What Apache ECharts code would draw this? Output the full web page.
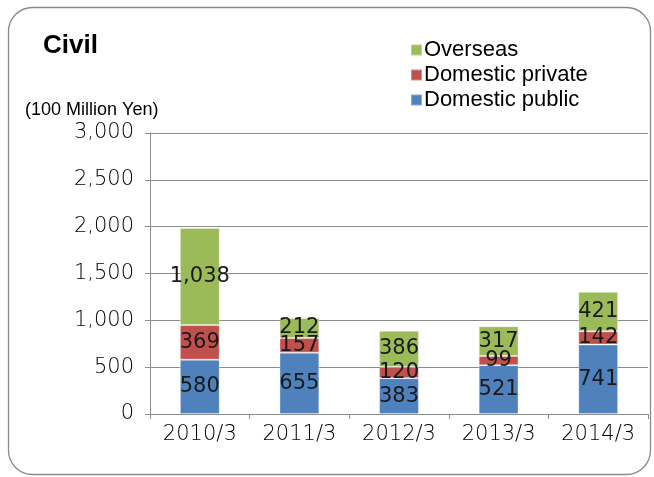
<!DOCTYPE html>
<html>
<head>
<meta charset="utf-8">
<script src="https://cdn.jsdelivr.net/npm/echarts@6/dist/echarts.min.js"></script>
<style>
  html, body { margin: 0; padding: 0; background: #ffffff; }
  #chart { width: 654px; height: 477px; }
</style>
</head>
<body>
<div id="chart"></div>
<script>
// Fiscal years (year/month of fiscal year end)
const categories = ['2010/3', '2011/3', '2012/3', '2013/3', '2014/3'];
// Civil engineering orders, 100 million yen
const domesticPublic = [580, 655, 383, 521, 741];
const domesticPrivate = [369, 157, 120, 99, 142];
const overseas = [1038, 212, 386, 317, 421];
const yTicks = [0, 500, 1000, 1500, 2000, 2500, 3000];

const numFont = 'DejaVu Sans';
const textFont = 'Liberation Sans';

const colors = {
  public: '#4F81BD',
  private: '#C0504D',
  overseas: '#9BBB59'
};

function segment(name, data, color) {
  return {
    name: name,
    type: 'bar',
    stack: 'total',
    data: data,
    barWidth: '40%',
    itemStyle: { color: color, borderColor: 'rgba(255,255,255,0.35)', borderWidth: 1 },
    label: {
      show: true,
      position: 'inside',
      color: '#1a1a1a',
      fontFamily: numFont,
      fontSize: 21,
      formatter: p => p.value.toLocaleString('en-US')
    }
  };
}

const chart = echarts.init(document.getElementById('chart'));
chart.setOption({
  animation: false,
  backgroundColor: '#ffffff',
  grid: { left: 150, right: 6, top: 133, bottom: 63 },
  graphic: [
    {
      type: 'rect',
      shape: { x: 8.5, y: 7.5, width: 642, height: 467, r: 24 },
      style: { fill: 'none', stroke: '#8a8a8a', lineWidth: 1.3 },
      z: -1
    },
    {
      type: 'text',
      left: 43, top: 33,
      style: { text: 'Civil', font: 'bold 26px "Liberation Sans"', fill: '#000' }
    },
    {
      type: 'text',
      left: 25, top: 101,
      style: { text: '(100 Million Yen)', font: '18px "Liberation Sans"', fill: '#000' }
    }
  ],
  legend: {
    orient: 'vertical',
    left: 405,
    top: 34,
    itemWidth: 11,
    itemHeight: 11,
    itemGap: 3,
    icon: 'rect',
    textStyle: { fontFamily: textFont, fontSize: 22, color: '#000', padding: [0, 0, 0, -3] },
    data: ['Overseas', 'Domestic private', 'Domestic public']
  },
  xAxis: {
    type: 'category',
    data: categories,
    axisLine: { lineStyle: { color: '#8c8c8c', width: 1 } },
    axisTick: { show: true, length: 5, lineStyle: { color: '#8c8c8c' } },
    axisLabel: { fontFamily: numFont, fontWeight: 200, fontSize: 21, color: '#000', margin: 10 }
  },
  yAxis: {
    type: 'value',
    min: yTicks[0],
    max: yTicks[yTicks.length - 1],
    interval: yTicks[1] - yTicks[0],
    axisLine: { show: true, lineStyle: { color: '#8c8c8c', width: 1 } },
    axisTick: { show: true, length: 5, lineStyle: { color: '#8c8c8c' } },
    splitLine: { lineStyle: { color: '#8c8c8c', width: 1 } },
    axisLabel: {
      fontFamily: numFont, fontWeight: 200, fontSize: 21, color: '#000', margin: 16,
      formatter: v => v.toLocaleString('en-US')
    }
  },
  series: [
    segment('Domestic public', domesticPublic, colors.public),
    segment('Domestic private', domesticPrivate, colors.private),
    segment('Overseas', overseas, colors.overseas)
  ]
});
</script>
</body>
</html>
